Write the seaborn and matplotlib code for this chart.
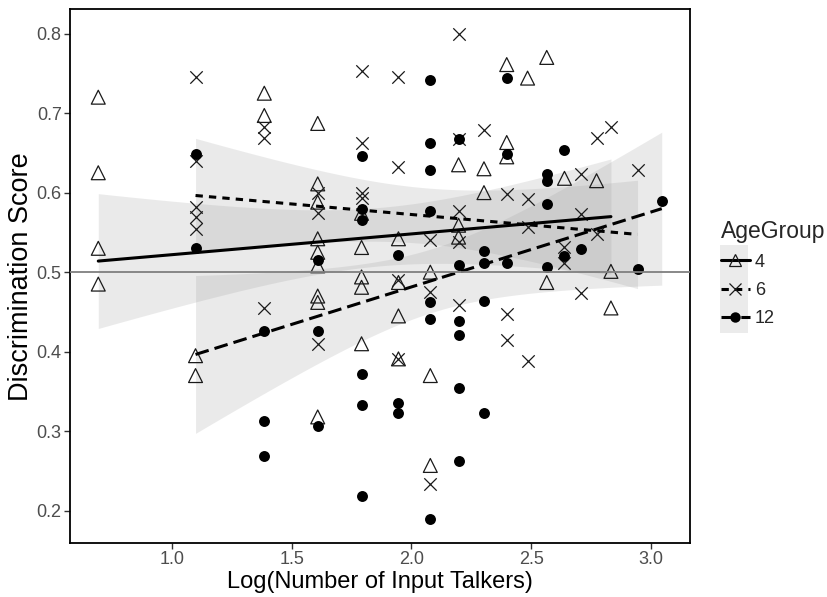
import numpy as np
import pandas as pd
import matplotlib
matplotlib.use("Agg")
import matplotlib.pyplot as plt
import seaborn as sns
from matplotlib.lines import Line2D
from matplotlib.patches import Rectangle

# ---------------- data ----------------
age_groups = ["4", "6", "12"]

x4 = [0.693, 0.693, 0.693, 0.693, 1.099, 1.099, 1.386, 1.386,
      1.609, 1.609, 1.609, 1.609, 1.609, 1.609, 1.609, 1.609, 1.609,
      1.792, 1.792, 1.792, 1.792, 1.792, 1.946, 1.946, 1.946, 1.946,
      2.079, 2.079, 2.079, 2.197, 2.197, 2.197, 2.303, 2.303,
      2.398, 2.398, 2.398, 2.485, 2.565, 2.565, 2.639, 2.773, 2.833, 2.833]
y4 = [0.720, 0.625, 0.530, 0.485, 0.395, 0.370, 0.725, 0.697,
      0.687, 0.611, 0.588, 0.542, 0.525, 0.508, 0.470, 0.462, 0.318,
      0.574, 0.531, 0.494, 0.481, 0.410, 0.542, 0.487, 0.445, 0.391,
      0.500, 0.370, 0.257, 0.635, 0.559, 0.544, 0.630, 0.600,
      0.761, 0.663, 0.645, 0.744, 0.770, 0.487, 0.618, 0.615, 0.501, 0.455]

x6 = [1.099, 1.099, 1.099, 1.099, 1.099, 1.386, 1.386, 1.386,
      1.609, 1.609, 1.609, 1.792, 1.792, 1.792, 1.792,
      1.946, 1.946, 1.946, 1.946, 2.079, 2.079, 2.079,
      2.197, 2.197, 2.197, 2.197, 2.197, 2.303, 2.398, 2.398, 2.398,
      2.485, 2.485, 2.485, 2.639, 2.639, 2.708, 2.708, 2.708,
      2.773, 2.773, 2.833, 2.944]
y6 = [0.745, 0.640, 0.582, 0.569, 0.554, 0.682, 0.669, 0.455,
      0.600, 0.575, 0.410, 0.753, 0.663, 0.599, 0.593,
      0.745, 0.632, 0.490, 0.391, 0.541, 0.475, 0.234,
      0.799, 0.667, 0.577, 0.538, 0.459, 0.679, 0.598, 0.448, 0.415,
      0.592, 0.557, 0.388, 0.532, 0.512, 0.623, 0.573, 0.474,
      0.669, 0.548, 0.683, 0.628]

x12 = [1.099, 1.099, 1.386, 1.386, 1.386, 1.609, 1.609, 1.609,
       1.792, 1.792, 1.792, 1.792, 1.792, 1.792, 1.946, 1.946, 1.946,
       2.079, 2.079, 2.079, 2.079, 2.079, 2.079, 2.079,
       2.197, 2.197, 2.197, 2.197, 2.197, 2.197, 2.303, 2.303, 2.303, 2.303,
       2.398, 2.398, 2.398, 2.565, 2.565, 2.565, 2.565, 2.639, 2.639,
       2.708, 2.944, 3.045]
y12 = [0.648, 0.531, 0.426, 0.313, 0.269, 0.515, 0.426, 0.306,
       0.646, 0.580, 0.565, 0.372, 0.333, 0.218, 0.521, 0.335, 0.323,
       0.742, 0.662, 0.628, 0.577, 0.462, 0.441, 0.190,
       0.667, 0.509, 0.438, 0.421, 0.354, 0.262, 0.526, 0.511, 0.464, 0.323,
       0.744, 0.649, 0.512, 0.623, 0.615, 0.586, 0.507, 0.653, 0.520,
       0.529, 0.504, 0.590]

x_ticks = [1.0, 1.5, 2.0, 2.5, 3.0]
y_ticks = [0.2, 0.3, 0.4, 0.5, 0.6, 0.7, 0.8]
reference_score = 0.5

df = pd.concat([
    pd.DataFrame({"LogTalkers": x4, "Score": y4, "AgeGroup": "4"}),
    pd.DataFrame({"LogTalkers": x6, "Score": y6, "AgeGroup": "6"}),
    pd.DataFrame({"LogTalkers": x12, "Score": y12, "AgeGroup": "12"}),
], ignore_index=True)

# ---------------- style ----------------
sns.set_theme(style="white")
plt.rcParams["font.family"] = ["Liberation Sans", "DejaVu Sans"]

dash = {"4": None, "6": (2.4, 2.0), "12": (4.5, 2.0)}
line_w = 2.2
band_color = "#999999"


def t975(dof):
    try:
        from scipy import stats
        return float(stats.t.ppf(0.975, dof))
    except Exception:
        return 2.02


fig = plt.figure(figsize=(8.27, 5.97), dpi=100)
ax = fig.add_axes([70 / 827, 1 - 543 / 597, 620 / 827, (543 - 9.3) / 597])

# linear fits with analytic 95% confidence band (like geom_smooth(method="lm"))
for g in age_groups:
    sub = df[df["AgeGroup"] == g]
    xv = sub["LogTalkers"].to_numpy()
    yv = sub["Score"].to_numpy()
    n = len(xv)
    b1, b0 = np.polyfit(xv, yv, 1)
    resid = yv - (b0 + b1 * xv)
    s = np.sqrt(np.sum(resid ** 2) / (n - 2))
    grid = np.linspace(xv.min(), xv.max(), 80)
    fit = b0 + b1 * grid
    se = s * np.sqrt(1 / n + (grid - xv.mean()) ** 2 / np.sum((xv - xv.mean()) ** 2))
    tq = t975(n - 2)
    ax.fill_between(grid, fit - tq * se, fit + tq * se, color=band_color,
                    alpha=0.2, linewidth=0, zorder=1)
    kw = dict(color="black", lw=line_w, zorder=4)
    if dash[g] is not None:
        kw["linestyle"] = (0, dash[g])
    sns.lineplot(x=grid, y=fit, ax=ax, legend=False, **kw)

# points
sub = df[df["AgeGroup"] == "4"]
sns.scatterplot(data=sub, x="LogTalkers", y="Score", ax=ax, marker="^", s=100,
                facecolor="none", edgecolor="#1a1a1a", linewidth=0.9,
                zorder=3, legend=False)
sub = df[df["AgeGroup"] == "6"]
sns.scatterplot(data=sub, x="LogTalkers", y="Score", ax=ax, marker="x", s=80,
                color="#1a1a1a", linewidth=0.9, zorder=3, legend=False)
sub = df[df["AgeGroup"] == "12"]
sns.scatterplot(data=sub, x="LogTalkers", y="Score", ax=ax, marker="o", s=62,
                color="black", linewidth=0, zorder=3, legend=False)

ax.axhline(reference_score, color="#7f7f7f", lw=1.3, zorder=5)

ax.set_xlim(0.575, 3.163)
ax.set_ylim(0.1595, 0.8305)
ax.set_xticks(x_ticks)
ax.set_xticklabels([f"{t:.1f}" for t in x_ticks])
ax.set_yticks(y_ticks)
ax.set_yticklabels([f"{t:.1f}" for t in y_ticks])
ax.tick_params(axis="both", which="both", direction="out", length=4, width=1,
               color="#333333", labelsize=13, labelcolor="#4d4d4d", pad=2,
               left=True, bottom=True)
for side, sp in ax.spines.items():
    sp.set_visible(True)
    sp.set_color("black")
    sp.set_linewidth(1.3)

ax.set_xlabel("Log(Number of Input Talkers)", fontsize=17, color="black", labelpad=2)
ax.set_ylabel("Discrimination Score", fontsize=19.5, color="black", labelpad=2)

# ---------------- legend ----------------
handles = []
for g, mk, ms in zip(age_groups, ["^", "x", "o"], [9, 8, 7.5]):
    ls = "-" if dash[g] is None else (0, dash[g])
    handles.append(Line2D([], [], color="black", lw=line_w, linestyle=ls, marker=mk,
                          markersize=ms,
                          markerfacecolor=("none" if g == "4" else "black"),
                          markeredgecolor=("#1a1a1a" if g != "12" else "black"),
                          markeredgewidth=(0.9 if g != "12" else 0)))

fig.patches.append(Rectangle((720 / 827, 1 - 333 / 597), 28 / 827, 88 / 597,
                             transform=fig.transFigure, facecolor="#ebebeb",
                             edgecolor="none", zorder=0))
leg = fig.legend(handles, age_groups, title="AgeGroup", loc="upper left",
                 bbox_to_anchor=(717 / 827, 1 - 216 / 597), frameon=False,
                 fontsize=13, title_fontsize=16.5, handlelength=1.6,
                 handletextpad=0.3, labelspacing=0.62, borderpad=0.2,
                 borderaxespad=0)
leg._legend_box.align = "left"

fig.savefig("out.png", dpi=100)
